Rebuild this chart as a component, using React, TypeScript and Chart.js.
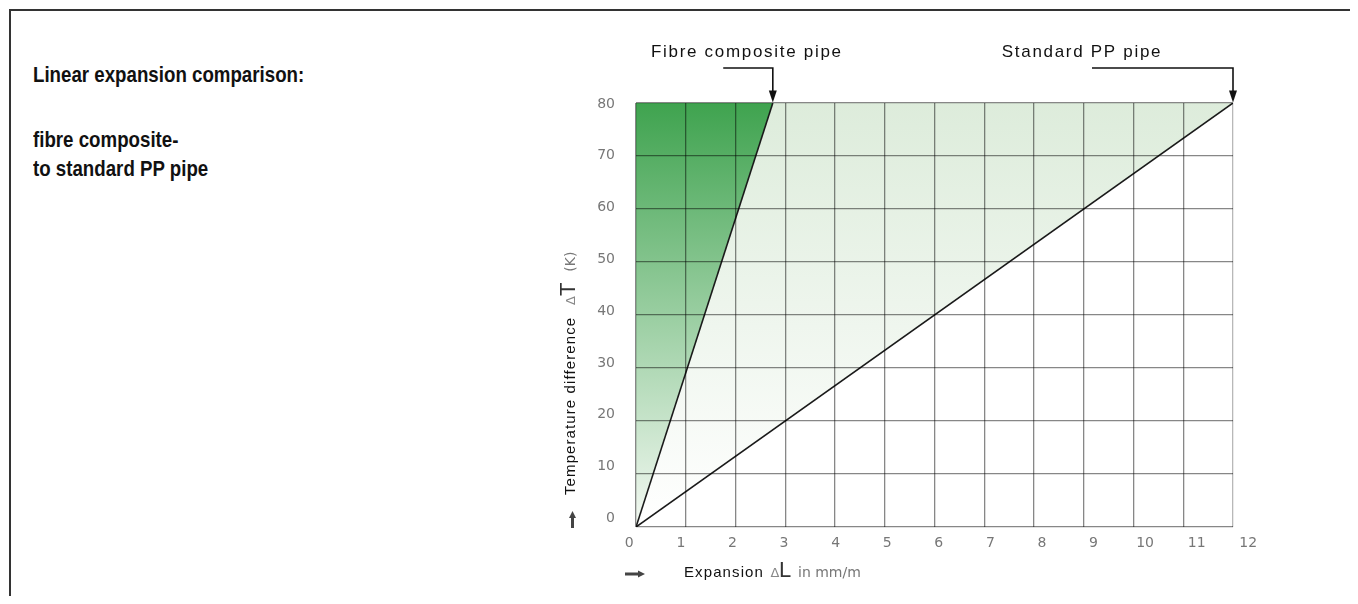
import React, { useEffect, useRef } from "react";
import { Chart, registerables } from "chart.js";

Chart.register(...registerables);

// ---- data ----
const X_TICKS = [0, 1, 2, 3, 4, 5, 6, 7, 8, 9, 10, 11, 12];
const Y_TICKS = [0, 10, 20, 30, 40, 50, 60, 70, 80];
const FIBRE_X = [0, 2.75];
const FIBRE_Y = [0, 80];
const PP_X = [0, 12];
const PP_Y = [0, 80];
const SERIES_NAMES = ["Fibre composite pipe", "Standard PP pipe"];
const TITLE_LINES = ["Linear expansion comparison:"];
const SUBTITLE_LINES = ["fibre composite-", "to standard PP pipe"];

// scale ranges (grid axes and the slightly offset label axes of the original drawing)
const X_RANGE = [0, 12];
const Y_RANGE = [0, 80];
const X_LABEL_RANGE = [0.13, 11.704];
const Y_LABEL_RANGE = [-1.68, 80.19];

const GRID = "rgba(0,0,0,0.47)";
const GRID_EDGE = "rgba(0,0,0,0.28)";
const TICK_FONT = { family: "'DejaVu Sans', sans-serif", size: 14 };
const TICK_COLOR = "#777";
const Y_LABEL_AXIS_W = 40;
const X_LABEL_AXIS_H = 30;

const ANNOTATIONS = [
  { text: SERIES_NAMES[0], x: FIBRE_X[1], y: FIBRE_Y[1], textDx: -26, leaderDx: -49.6 },
  { text: SERIES_NAMES[1], x: PP_X[1], y: PP_Y[1], textDx: -151, leaderDx: -141 },
];

const makeGrad = (stops: [number, string][]) => (ctx: any) => {
  const chart = ctx.chart;
  const area = chart.chartArea;
  if (!area) return stops[stops.length - 1][1];
  const g = chart.ctx.createLinearGradient(0, area.bottom, 0, area.top);
  stops.forEach(([o, c]) => g.addColorStop(o, c));
  return g;
};

function arrowHead(c: CanvasRenderingContext2D, x: number, y: number, dx: number, dy: number, len: number, half: number) {
  const bx = x - dx * len;
  const by = y - dy * len;
  c.beginPath();
  c.moveTo(x, y);
  c.lineTo(bx - dy * half, by + dx * half);
  c.lineTo(bx + dy * half, by - dx * half);
  c.closePath();
  c.fill();
}

type Seg = { text: string; at: number; font: string; color: string; spacing?: string };

function drawSegs(c: CanvasRenderingContext2D, segs: Seg[]) {
  segs.forEach((s) => {
    c.font = s.font;
    c.fillStyle = s.color;
    (c as any).letterSpacing = s.spacing || "0px";
    c.fillText(s.text, s.at, 0);
  });
  (c as any).letterSpacing = "0px";
}

const overlay = {
  id: "overlay",
  afterDraw(chart: any) {
    const c: CanvasRenderingContext2D = chart.ctx;
    const xs = chart.scales.x;
    const ys = chart.scales.y;
    const left = xs.getPixelForValue(X_RANGE[0]);
    const bottom = ys.getPixelForValue(Y_RANGE[0]);
    c.save();
    ANNOTATIONS.forEach((a) => {
      const tx = xs.getPixelForValue(a.x);
      const ty = ys.getPixelForValue(a.y);
      const ly = ty - 35;
      c.strokeStyle = "#111";
      c.fillStyle = "#111";
      c.lineWidth = 1.6;
      c.beginPath();
      c.moveTo(tx + a.leaderDx, ly);
      c.lineTo(tx, ly);
      c.lineTo(tx, ty - 10);
      c.stroke();
      arrowHead(c, tx, ty - 0.5, 0, 1, 12, 4);
      c.font = "17px 'Liberation Sans', Arial, sans-serif";
      (c as any).letterSpacing = "1.7px";
      c.textAlign = "center";
      c.textBaseline = "alphabetic";
      c.fillStyle = "#111";
      c.fillText(a.text, tx + a.textDx, ty - 45.7);
      (c as any).letterSpacing = "0px";
    });

    c.textAlign = "left";
    c.textBaseline = "alphabetic";
    c.save();
    c.translate(left, bottom + 50.3);
    drawSegs(c, [
      { text: "Expansion", at: 48, font: "15px 'Liberation Sans', Arial, sans-serif", color: "#111", spacing: "1.1px" },
      { text: "\u0394", at: 134.5, font: "13px 'DejaVu Sans', sans-serif", color: "#888" },
      { text: "L", at: 143, font: "22px 'Liberation Sans', Arial, sans-serif", color: "#333" },
      { text: "in mm/m", at: 162, font: "14px 'DejaVu Sans', sans-serif", color: "#777" },
    ]);
    c.restore();

    c.save();
    c.translate(left - 61, bottom - 32);
    c.rotate(-Math.PI / 2);
    drawSegs(c, [
      { text: "Temperature difference", at: 0, font: "15px 'Liberation Sans', Arial, sans-serif", color: "#111", spacing: "1.1px" },
      { text: "\u0394", at: 190, font: "13px 'DejaVu Sans', sans-serif", color: "#888" },
      { text: "T", at: 199, font: "22px 'Liberation Sans', Arial, sans-serif", color: "#333" },
      { text: "(K)", at: 223.3, font: "14px 'DejaVu Sans', sans-serif", color: "#777" },
    ]);
    c.restore();

    c.fillStyle = "#444";
    c.fillRect(left - 65, bottom - 9, 3, 10);
    arrowHead(c, left - 63.5, bottom - 16, 0, -1, 7, 3.5);
    c.fillRect(left - 11, bottom + 45.5, 14, 3);
    arrowHead(c, left + 9, bottom + 47, 1, 0, 7, 3.5);
    c.restore();
  },
};

export default function App() {
  const ref = useRef<HTMLCanvasElement>(null);

  useEffect(() => {
    const canvas = ref.current!;
    const chart = new Chart(canvas, {
      type: "line",
      data: {
        datasets: [
          {
            label: SERIES_NAMES[0],
            data: FIBRE_X.map((x, i) => ({ x, y: FIBRE_Y[i] })),
            borderColor: "#1a1a1a",
            borderWidth: 1.6,
            pointRadius: 0,
            fill: "end",
            backgroundColor: makeGrad([
              [0, "#f4f9f3"],
              [1, "#3fa34f"],
            ]),
            xAxisID: "x",
            yAxisID: "y",
          },
          {
            label: SERIES_NAMES[1],
            data: PP_X.map((x, i) => ({ x, y: PP_Y[i] })),
            borderColor: "#1a1a1a",
            borderWidth: 1.6,
            pointRadius: 0,
            fill: "end",
            backgroundColor: makeGrad([
              [0, "#ffffff"],
              [1, "#ddecdb"],
            ]),
            xAxisID: "x",
            yAxisID: "y",
          },
        ],
      } as any,
      options: {
        responsive: false,
        maintainAspectRatio: false,
        animation: false,
        layout: {
          padding: { left: 628 - Y_LABEL_AXIS_W, right: 117, top: 95, bottom: 69 - X_LABEL_AXIS_H },
        },
        plugins: { legend: { display: false }, tooltip: { enabled: false } },
        scales: {
          x: {
            type: "linear",
            position: "bottom",
            min: X_RANGE[0],
            max: X_RANGE[1],
            bounds: "data",
            afterBuildTicks: (a: any) => {
              a.ticks = X_TICKS.map((v) => ({ value: v }));
            },
            afterFit: (a: any) => {
              a.height = 0;
            },
            ticks: { display: false },
            grid: {
              z: 1,
              drawTicks: false,
              lineWidth: 1.3,
              color: (ctx: any) => (ctx.tick && ctx.tick.value === X_RANGE[1] ? GRID_EDGE : GRID),
            },
            border: { display: false },
          },
          y: {
            type: "linear",
            position: "left",
            min: Y_RANGE[0],
            max: Y_RANGE[1],
            bounds: "data",
            afterBuildTicks: (a: any) => {
              a.ticks = Y_TICKS.map((v) => ({ value: v }));
            },
            afterFit: (a: any) => {
              a.width = 0;
            },
            ticks: { display: false },
            grid: { z: 1, drawTicks: false, lineWidth: 1.3, color: GRID },
            border: { display: false },
          },
          xl: {
            type: "linear",
            position: "bottom",
            min: X_LABEL_RANGE[0],
            max: X_LABEL_RANGE[1],
            bounds: "data",
            afterBuildTicks: (a: any) => {
              a.ticks = X_TICKS.map((v) => ({ value: v }));
            },
            afterFit: (a: any) => {
              a.height = X_LABEL_AXIS_H;
            },
            grid: { display: false, drawTicks: false },
            border: { display: false },
            ticks: { autoSkip: false, maxRotation: 0, padding: 8, color: TICK_COLOR, font: TICK_FONT },
          },
          yl: {
            type: "linear",
            position: "left",
            min: Y_LABEL_RANGE[0],
            max: Y_LABEL_RANGE[1],
            bounds: "data",
            afterBuildTicks: (a: any) => {
              a.ticks = Y_TICKS.map((v) => ({ value: v }));
            },
            afterFit: (a: any) => {
              a.width = Y_LABEL_AXIS_W;
            },
            grid: { display: false, drawTicks: false },
            border: { display: false },
            ticks: { autoSkip: false, padding: 21, color: TICK_COLOR, font: TICK_FONT },
          },
        },
      } as any,
      plugins: [overlay],
    });
    return () => chart.destroy();
  }, []);

  const textStyle: React.CSSProperties = {
    position: "absolute",
    left: 25,
    margin: 0,
    fontFamily: "'Liberation Sans', Arial, sans-serif",
    fontWeight: "bold",
    fontSize: 22,
    lineHeight: "28.5px",
    color: "#111",
    whiteSpace: "nowrap",
    transform: "scaleX(0.85)",
    transformOrigin: "0 0",
  };

  return (
    <div style={{ position: "relative", width: 1342, height: 588, overflow: "hidden" }}>
      <div
        style={{
          position: "absolute",
          left: 1,
          top: 1,
          width: 2000,
          height: 2000,
          borderTop: "2px solid #333",
          borderLeft: "2px solid #333",
        }}
      />
      <div style={{ ...textStyle, top: 52.8 }}>
        {TITLE_LINES.map((t) => (
          <div key={t}>{t}</div>
        ))}
      </div>
      <div style={{ ...textStyle, top: 118.4 }}>
        {SUBTITLE_LINES.map((t) => (
          <div key={t}>{t}</div>
        ))}
      </div>
      <canvas
        ref={ref}
        width={1342}
        height={588}
        style={{ position: "absolute", left: 0, top: 0, width: 1342, height: 588 }}
      />
    </div>
  );
}
